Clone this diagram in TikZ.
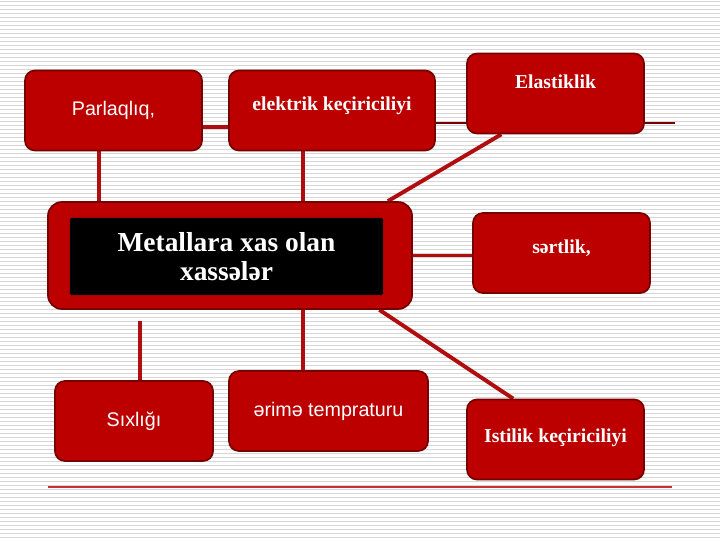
\documentclass[tikz,border=0pt]{standalone}
\usepackage{fontspec}
\setmainfont{Liberation Serif}
\newfontfamily\arialfont{Liberation Sans}
\definecolor{boxred}{RGB}{188,0,0}
\definecolor{edgered}{RGB}{118,0,0}
\definecolor{linkred}{RGB}{176,14,14}
\definecolor{stripegray}{RGB}{214,214,214}
\definecolor{rulered}{RGB}{200,50,50}
\pgfdeclarelayer{stripes}
\pgfdeclarelayer{links}
\pgfsetlayers{stripes,links,main}

\begin{document}
\begin{tikzpicture}[x=0.025cm, y=-0.025cm]
    \useasboundingbox (0, 0) rectangle (720, 540);
    \tikzset{PropertyBox/.style={rectangle, rounded corners=0.25cm, draw=edgered, fill=boxred, line width=1.2pt, text=white, font=\bfseries\fontsize{14}{16}\selectfont, text height=0.35cm, text depth=0.1cm, minimum height=2cm}}
    \tikzset{SansText/.style={font=\arialfont\fontsize{14}{16}\selectfont}}
    \tikzset{CoreFrame/.style={rectangle, rounded corners=0.35cm, draw=edgered, fill=boxred, line width=1.2pt, minimum width=9.1cm, minimum height=2.675cm}}
    \tikzset{CoreBox/.style={rectangle, rounded corners=1pt, fill=black, text=white, align=center, font=\bfseries\fontsize{19.5}{20.6}\selectfont, minimum width=7.825cm, minimum height=1.925cm}}
    \tikzset{Connection/.style={draw=linkred, line width=2.8pt}}
    \tikzset{ThinRule/.style={draw=#1, line width=0.8pt}, ThinRule/.default=edgered}

    \begin{pgfonlayer}{stripes}
        \fill[white] (0, 0) rectangle (720, 540);
        \foreach \y in {1,5,...,537}
            \draw[stripegray, line width=0.6pt] (0, \y) -- (720, \y);
    \end{pgfonlayer}

    \node[PropertyBox, SansText, minimum width=4.425cm] (prop-1-1) at (113.5, 110.5) {Parlaqlıq,}; % top left
    \node[PropertyBox, minimum width=5.15cm, text depth=0.35cm] (prop-1-2) at (332, 110.5) {elektrik keçiriciliyi}; % top middle
    \node[PropertyBox, minimum width=4.425cm, text depth=0.58cm] (prop-1-3) at (555.5, 93.5) {Elastiklik}; % top right
    \node[CoreFrame] (prop-2-1) at (230, 255.5) {}; % frame
    \node[CoreBox] (prop-2-0) at (226.5, 256.5) {Metallara xas olan\\xassələr}; % title
    \node[PropertyBox, minimum width=4.425cm, text depth=0.35cm] (prop-2-3) at (561.5, 253) {sərtlik,}; % right
    \node[PropertyBox, SansText, minimum width=3.95cm] (prop-3-1) at (134, 421) {Sıxlığı}; % bottom left
    \node[PropertyBox, SansText, minimum width=4.975cm] (prop-3-2) at (328.5, 411) {ərimə tempraturu}; % bottom middle
    \node[PropertyBox, minimum width=4.425cm, text depth=0.22cm] (prop-3-3) at (555.5, 439.5) {Istilik keçiriciliyi}; % bottom right

    \coordinate (rule-end) at (675, 123);
    \coordinate (base-left) at (48, 487);
    \coordinate (base-right) at (672, 487);

    \begin{pgfonlayer}{links}
        \draw[Connection] ([yshift=-0.41cm]prop-1-1.center) -- ([yshift=-0.41cm]prop-1-2.center);
        \draw[Connection] ([xshift=-0.36cm]prop-1-1.center) -- ([xshift=-0.36cm]prop-1-1.center |- prop-2-1.center);
        \draw[Connection] ([xshift=-0.725cm]prop-1-2.center) -- ([xshift=-0.725cm]prop-1-2.center |- prop-2-1.center);
        \draw[Connection] (prop-1-3.217) -- (prop-2-1.19);
        \draw[Connection] (prop-2-1.center) -- (prop-2-1.center -| prop-2-3.center);
        \draw[Connection, shorten >=0.275cm] ([xshift=0.15cm]prop-3-1.center) -- ([xshift=0.15cm]prop-3-1.center |- prop-2-1.south);
        \draw[Connection] ([xshift=-0.64cm]prop-3-2.center) -- ([xshift=-0.64cm]prop-3-2.center |- prop-2-1.center);
        \draw[Connection] (prop-2-1.-20.8) -- (prop-3-3.136.4);
        \draw[ThinRule] (prop-1-2.center |- rule-end) -- (rule-end);
    \end{pgfonlayer}
    \draw[ThinRule=rulered] (base-left) -- (base-right);
\end{tikzpicture}
\end{document}
